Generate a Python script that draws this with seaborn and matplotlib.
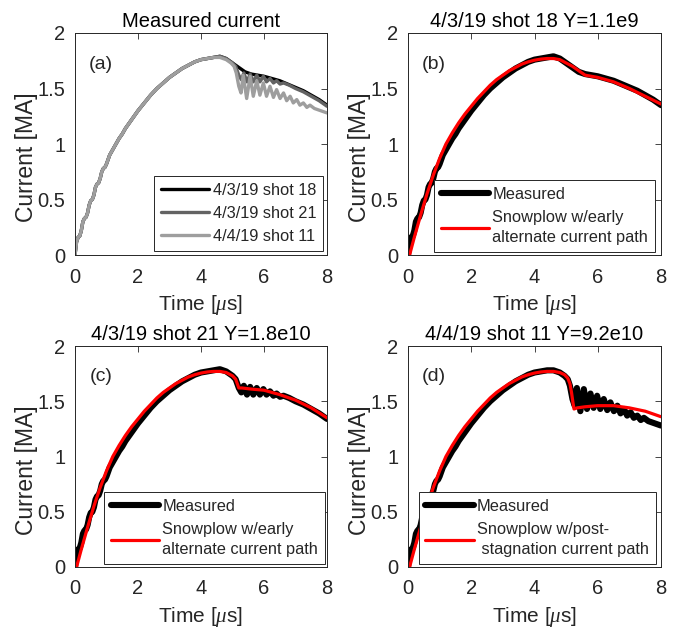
import matplotlib
matplotlib.use("Agg")
import matplotlib.pyplot as plt
import seaborn as sns

# ---------------- data ----------------
# measured rise, common to the three shots (t in us, I in MA)
rise_t = [0.00, 0.05, 0.10, 0.15, 0.20, 0.25, 0.30, 0.35, 0.40, 0.45, 0.50, 0.55,
          0.60, 0.65, 0.70, 0.75, 0.80, 0.85, 0.90, 0.95, 1.00, 1.10, 1.20, 1.30,
          1.40, 1.50, 1.60, 1.70, 1.80, 1.90, 2.00, 2.20, 2.40, 2.60, 2.80, 3.00,
          3.20, 3.40, 3.60, 3.80, 4.00, 4.20, 4.40]
rise_i = [0.00, 0.12, 0.16, 0.17, 0.22, 0.30, 0.33, 0.34, 0.38, 0.45, 0.49, 0.50,
          0.54, 0.61, 0.64, 0.65, 0.69, 0.75, 0.78, 0.79, 0.82, 0.90, 0.95, 1.00,
          1.05, 1.09, 1.14, 1.18, 1.22, 1.26, 1.30, 1.37, 1.44, 1.50, 1.55, 1.60,
          1.64, 1.68, 1.71, 1.74, 1.76, 1.77, 1.78]

# post-peak parts of each measured shot
s18_t = [4.60, 4.80, 5.00, 5.10, 5.20, 5.30, 5.40, 5.50, 5.60, 5.80, 6.00, 6.25,
         6.50, 6.75, 7.00, 7.25, 7.50, 7.75, 8.00]
s18_i = [1.79, 1.77, 1.73, 1.71, 1.69, 1.67, 1.65, 1.64, 1.63, 1.62, 1.61, 1.59,
         1.57, 1.54, 1.51, 1.48, 1.44, 1.40, 1.35]

s21_t = [4.60, 4.80, 5.00, 5.10, 5.20, 5.28, 5.36, 5.46, 5.56, 5.66, 5.77, 5.87,
         5.98, 6.08, 6.19, 6.30, 6.40, 6.51, 6.62, 6.80, 7.00, 7.25, 7.50, 7.75, 8.00]
s21_i = [1.79, 1.77, 1.73, 1.70, 1.62, 1.58, 1.64, 1.56, 1.63, 1.56, 1.62, 1.56,
         1.61, 1.56, 1.59, 1.55, 1.57, 1.54, 1.55, 1.53, 1.50, 1.47, 1.43, 1.39, 1.34]

s11_t = [4.60, 4.80, 4.95, 5.05, 5.12, 5.20, 5.27, 5.34, 5.45, 5.56, 5.66, 5.77,
         5.87, 5.98, 6.08, 6.19, 6.30, 6.40, 6.51, 6.62, 6.72, 6.83, 6.93, 7.04,
         7.14, 7.25, 7.36, 7.46, 7.60, 7.80, 8.00]
s11_i = [1.78, 1.76, 1.73, 1.70, 1.64, 1.52, 1.46, 1.62, 1.41, 1.61, 1.43, 1.57,
         1.44, 1.55, 1.43, 1.52, 1.42, 1.49, 1.41, 1.46, 1.39, 1.43, 1.37, 1.40,
         1.35, 1.37, 1.33, 1.35, 1.32, 1.30, 1.28]

# snowplow model: common rise
sp_rise_t = [0.05, 0.20, 0.40, 0.60, 0.80, 1.00, 1.20, 1.40, 1.60, 1.80, 2.00,
             2.20, 2.40, 2.60, 2.80, 3.00, 3.20, 3.40, 3.60, 3.80, 4.00, 4.20, 4.40]
sp_rise_i = [0.00, 0.16, 0.36, 0.55, 0.72, 0.87, 1.00, 1.10, 1.19, 1.27, 1.34,
             1.41, 1.47, 1.53, 1.58, 1.62, 1.66, 1.69, 1.72, 1.74, 1.755, 1.765, 1.77]

sp_b_t = [4.60, 4.80, 5.00, 5.20, 5.40, 5.60, 5.80, 6.00, 6.50, 7.00, 7.50, 8.00]
sp_b_i = [1.77, 1.76, 1.73, 1.70, 1.66, 1.62, 1.61, 1.60, 1.56, 1.50, 1.43, 1.36]

sp_c_t = [4.60, 4.80, 5.00, 5.10, 5.15, 5.20, 5.30, 5.60, 6.00, 6.50, 7.00, 7.50, 8.00]
sp_c_i = [1.77, 1.76, 1.73, 1.70, 1.66, 1.62, 1.62, 1.61, 1.60, 1.56, 1.51, 1.44, 1.35]

sp_d_t = [4.60, 4.80, 4.95, 5.05, 5.12, 5.17, 5.22, 5.25, 5.35, 5.60, 6.00, 6.50,
          7.00, 7.50, 8.00]
sp_d_i = [1.77, 1.76, 1.74, 1.71, 1.66, 1.58, 1.48, 1.43, 1.44, 1.45, 1.46, 1.46,
          1.44, 1.41, 1.36]

titles = ["Measured current", "4/3/19 shot 18 Y=1.1e9",
          "4/3/19 shot 21 Y=1.8e10", "4/4/19 shot 11 Y=9.2e10"]
panel_tags = ["(a)", "(b)", "(c)", "(d)"]
shot_labels = ["4/3/19 shot 18", "4/3/19 shot 21", "4/4/19 shot 11"]
meas_label = "Measured"
model_labels = ["Snowplow w/early\nalternate current path",
                "Snowplow w/early\nalternate current path",
                "Snowplow w/post-\n stagnation current path"]
x_ticks = [0, 2, 4, 6, 8]
y_ticks = [0, 0.5, 1, 1.5, 2]
y_tick_labels = ["0", "0.5", "1", "1.5", "2"]

# ---------------- style ----------------
sns.set_style("white")
plt.rcParams["font.family"] = ["Liberation Sans", "DejaVu Sans"]
plt.rcParams["mathtext.fontset"] = "custom"
plt.rcParams["mathtext.it"] = "Liberation Serif:italic"
plt.rcParams["mathtext.rm"] = "Liberation Sans"

TXT = "#262626"
W, H = 678, 629
fig = plt.figure(figsize=(W / 100, H / 100), dpi=100)
fig.patch.set_facecolor("white")

boxes = [(75, 33, 327, 255), (408, 33, 661, 255),
         (75, 346, 327, 567), (408, 346, 661, 567)]
axes = []
for (l, t, r, b) in boxes:
    ax = fig.add_axes([l / W, 1 - b / H, (r - l) / W, (b - t) / H])
    axes.append(ax)


def full(t1, i1, t2, i2):
    return list(t1) + list(t2), list(i1) + list(i2)


# panel (a)
ax = axes[0]
for (tt, ii), col, lab in zip(
        [full(rise_t, rise_i, s18_t, s18_i), full(rise_t, rise_i, s21_t, s21_i),
         full(rise_t, rise_i, s11_t, s11_i)],
        ["black", "#636363", "#9e9e9e"], shot_labels):
    sns.lineplot(x=tt, y=ii, ax=ax, color=col, lw=2.4, label=lab,
                 estimator=None, sort=False)

meas = [full(rise_t, rise_i, s18_t, s18_i), full(rise_t, rise_i, s21_t, s21_i),
        full(rise_t, rise_i, s11_t, s11_i)]
models = [full(sp_rise_t, sp_rise_i, sp_b_t, sp_b_i),
          full(sp_rise_t, sp_rise_i, sp_c_t, sp_c_i),
          full(sp_rise_t, sp_rise_i, sp_d_t, sp_d_i)]
for k in range(3):
    ax = axes[k + 1]
    sns.lineplot(x=meas[k][0], y=meas[k][1], ax=ax, color="black", lw=4.4,
                 label=meas_label, estimator=None, sort=False)
    sns.lineplot(x=models[k][0], y=models[k][1], ax=ax, color="#ff0000", lw=2.3,
                 label=model_labels[k], estimator=None, sort=False)

legend_anchor = [(1 - 4 / 252, 4 / 222), (1 - 6 / 253, 3 / 222),
                 (1 - 2 / 252, 3 / 221), (1 - 5 / 253, 3 / 221)]
for k, ax in enumerate(axes):
    ax.set_xlim(0, 8)
    ax.set_ylim(0, 2)
    ax.set_xticks(x_ticks)
    ax.set_xticklabels([str(v) for v in x_ticks])
    ax.set_yticks(y_ticks)
    ax.set_yticklabels(y_tick_labels)
    ax.tick_params(direction="in", top=True, right=True, length=4, width=0.6,
                   colors=TXT, labelsize=14.5, pad=7)
    ax.tick_params(axis="x", pad=9)
    for s in ax.spines.values():
        s.set_visible(True)
        s.set_color(TXT)
        s.set_linewidth(0.7)
    ax.set_title(titles[k], fontsize=14.5, color="black", pad=4)
    ax.set_xlabel(r"Time [$\mu$s]", fontsize=15, color=TXT, labelpad=5)
    ax.set_ylabel("Current [MA]", fontsize=16.5, color=TXT)
    ax.yaxis.set_label_coords(-0.145, 0.44)
    ax.text(0.83, 1.72, panel_tags[k], fontsize=14, color=TXT,
            ha="center", va="center")
    leg = ax.legend(loc="lower right", bbox_to_anchor=legend_anchor[k],
                    borderaxespad=0, fontsize=11.8, handlelength=2.95,
                    handletextpad=0.2, labelspacing=0.5, borderpad=0.42,
                    fancybox=False, framealpha=1, edgecolor=TXT)
    leg.get_frame().set_linewidth(0.7)
    for txt in leg.get_texts():
        txt.set_color(TXT)
        txt.set_linespacing(1.4)

fig.savefig("out.png", dpi=100, facecolor="white")
